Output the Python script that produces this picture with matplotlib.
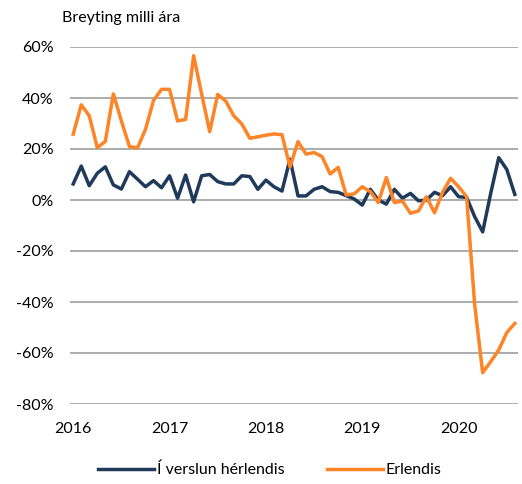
import matplotlib
matplotlib.use("Agg")
import matplotlib.pyplot as plt
import numpy as np

# Monthly data Jan 2016 - Aug 2020 (year-on-year change, %)
years = ["2016", "2017", "2018", "2019", "2020"]
domestic = [6.3, 13.3, 5.6, 10.5, 13.0, 5.9, 4.3, 11.1, 8.2, 5.2, 7.6, 4.8,
            9.5, 0.7, 9.8, -0.7, 9.5, 10.0, 7.2, 6.3, 6.3, 9.5, 9.2, 4.2,
            7.8, 5.2, 3.5, 16.0, 1.6, 1.6, 4.2, 5.2, 3.3, 3.0, 1.7, 0.4,
            -2.0, 4.2, 0.0, -1.6, 4.2, 0.7, 2.6, -0.3, 0.0, 3.0, 1.7, 5.2,
            1.3, 1.0, -6.5, -12.5, 2.6, 16.6, 12.0, 2.2]
abroad = [25.8, 37.3, 33.0, 20.5, 23.0, 41.6, 31.0, 21.0, 20.4, 27.7, 39.0, 43.4,
          43.4, 31.0, 31.6, 56.6, 41.5, 26.8, 41.4, 38.8, 33.0, 29.8, 24.2, 24.8,
          25.4, 25.9, 25.6, 13.0, 22.9, 18.0, 18.6, 17.0, 10.2, 12.8, 2.0, 2.4,
          5.2, 3.3, -1.0, 8.8, -1.0, -0.4, -5.2, -4.3, 1.3, -5.0, 3.0, 8.5,
          5.2, 1.3, -41.0, -67.7, -63.4, -58.8, -52.0, -48.4]
labels = ["Í verslun hérlendis", "Erlendis"]
yticks = [60, 40, 20, 0, -20, -40, -60, -80]

font = "Lato"
plt.rcParams["font.family"] = [font, "DejaVu Sans"]

fig = plt.figure(figsize=(5.22, 4.84), dpi=100)
ax = fig.add_axes([70/522, 1-404/484, 448/522, 357/484])

x = np.arange(len(domestic))
ax.plot(x, domestic, color="#1f3a5b", lw=2.5, label=labels[0], solid_joinstyle="round")
ax.plot(x, abroad, color="#fd8427", lw=2.5, label=labels[1], solid_joinstyle="round")

ax.set_ylim(-80, 60)
ax.set_xlim(-0.4, len(domestic) - 0.6)
ax.set_yticks(yticks)
ax.set_yticklabels([f"{v}%" for v in yticks])
ax.set_xticks([12*i for i in range(len(years))])
ax.set_xticklabels(years)
ax.grid(axis="y", color="#a6a6a6", lw=1.3)
ax.set_axisbelow(True)
for s in ax.spines.values():
    s.set_visible(False)
ax.tick_params(axis="both", length=0, labelsize=11.5, colors="#000000")
ax.tick_params(axis="y", pad=12)
ax.tick_params(axis="x", pad=13)

fig.text(62/522, 1-18/484, "Breyting milli ára", fontsize=11.5, va="center", ha="left")

fig.legend(loc="center", bbox_to_anchor=(270/522, 1-470/484), ncol=2, frameon=False,
           fontsize=11.5, handlelength=3.5, handletextpad=0.2, columnspacing=2.6)

fig.savefig("out.png", dpi=100)
